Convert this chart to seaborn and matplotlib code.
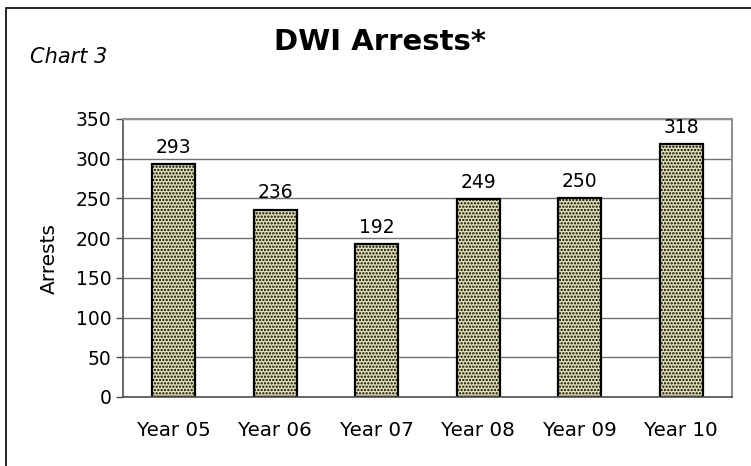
import matplotlib
matplotlib.use("Agg")
import matplotlib.pyplot as plt
import seaborn as sns
import pandas as pd
from matplotlib.patches import Rectangle

categories = ["Year 05", "Year 06", "Year 07", "Year 08", "Year 09", "Year 10"]
arrests = [293, 236, 192, 249, 250, 318]
yticks = [0, 50, 100, 150, 200, 250, 300, 350]

sns.set_theme(style="white")
plt.rcParams['font.family'] = ['DejaVu Sans']
plt.rcParams['text.color'] = 'black'
plt.rcParams['axes.labelcolor'] = 'black'
plt.rcParams['hatch.color'] = '#888878'
plt.rcParams['hatch.linewidth'] = 1.1

df = pd.DataFrame({"Year": categories, "Arrests": arrests})

fig = plt.figure(figsize=(7.51, 4.66), dpi=100)
ax = fig.add_axes([123/751, 1-397/466, (732-123)/751, (397-119)/466])

sns.barplot(data=df, x="Year", y="Arrests", ax=ax, color="#e4e1b4",
            width=0.42, edgecolor="black", linewidth=1.6, saturation=1)
for p in ax.patches:
    p.set_hatch('.....')
    p.set_edgecolor('black')

ax.set_ylim(0, 350)
ax.set_yticks(yticks)
ax.yaxis.grid(True, color="#707070", linewidth=1.0)
ax.set_axisbelow(True)
ax.set_xlim(-0.5, 5.5)

for i, v in enumerate(arrests):
    ax.text(i, v + 9, str(v), ha="center", va="bottom", fontsize=13.5, color="black")

ax.set_xlabel("")
ax.set_ylabel("Arrests", fontsize=14.5, labelpad=12)
ax.tick_params(axis="y", labelsize=13.5, colors="black", length=5, width=1,
               direction="out", left=True)
ax.tick_params(axis="x", labelsize=14.3, colors="black", pad=17, bottom=True)
ax.set_xticks([i - 0.5 for i in range(7)], minor=True)
ax.tick_params(axis="x", which="major", length=0)
ax.tick_params(axis="x", which="minor", length=5, width=1, color="#505050")
ax.tick_params(axis="y", color="#505050")

for side in ["left", "bottom"]:
    ax.spines[side].set_color("#505050")
    ax.spines[side].set_linewidth(1.2)
for side in ["top", "right"]:
    ax.spines[side].set_visible(True)
    ax.spines[side].set_color("#909090")
    ax.spines[side].set_linewidth(1.5)

fig.text(380/751, 1-42/466, "DWI Arrests*", ha="center", va="center",
         fontsize=21, fontweight="bold")
fig.text(30/751, 1-57/466, "Chart 3", ha="left", va="center",
         fontsize=15, fontstyle="italic")

fig.patches.append(Rectangle((6/751, -0.1), 1.2, 1 - 8/466 + 0.1,
                             transform=fig.transFigure, fill=False,
                             edgecolor="black", linewidth=1.2))

fig.savefig("out.png", dpi=100)
